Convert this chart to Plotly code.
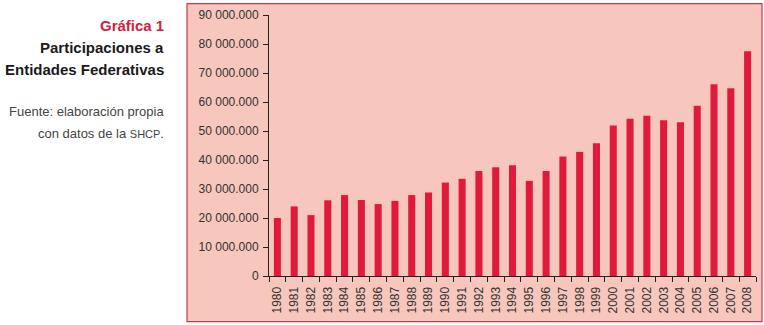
import plotly.graph_objects as go

years = [str(y) for y in range(1980, 2009)]
values = [20.0, 24.0, 21.0, 26.1, 27.9, 26.2, 24.8, 25.9, 27.9, 28.8,
          32.2, 33.5, 36.2, 37.5, 38.2, 32.8, 36.2, 41.2, 42.8, 45.8,
          51.9, 54.2, 55.3, 53.7, 53.0, 58.7, 66.1, 64.7, 77.5]
values = [v * 1_000_000 for v in values]

tick_vals = [0, 10e6, 20e6, 30e6, 40e6, 50e6, 60e6, 70e6, 80e6, 90e6]
tick_text = ["0", "10 000.000", "20 000.000", "30 000.000", "40 000.000",
             "50 000.000", "60 000.000", "70 000.000", "80 000.000", "90 000.000"]

W, H = 764, 325
L, R, T, B = 269, 756, 13, 276  # plot area in pixels

def px(x):
    return (x - L) / (R - L)

def py(y):
    return (B - y) / (B - T)

PINK = "#F7C6BC"
RED = "#E01A3B"
FONT = "Liberation Sans"

fig = go.Figure(go.Bar(x=years, y=values, marker=dict(color=RED, line=dict(width=0)),
                       width=0.42))

fig.add_shape(type="rect", xref="paper", yref="paper",
              x0=px(187), x1=px(762), y0=py(322), y1=py(1.5),
              fillcolor=PINK, line=dict(color="#C53A52", width=1.2), layer="below")

annots = [
    dict(text="<b>Gráfica 1</b>", y=24, size=15, color="#D4213D"),
    dict(text="<b>Participaciones a</b>", y=46, size=15, color="#1a1a1a"),
    dict(text="<b>Entidades Federativas</b>", y=68, size=15, color="#1a1a1a"),
    dict(text="Fuente: elaboración propia", y=110, size=13, color="#444444"),
    dict(text="con datos de la <span style='font-size:11px'>SHCP</span>.", y=132, size=13, color="#444444"),
]
for a in annots:
    fig.add_annotation(text=a["text"], xref="paper", yref="paper", x=px(166), y=py(a["y"]),
                       xanchor="right", yanchor="middle", showarrow=False,
                       font=dict(family=FONT, size=a["size"], color=a["color"]))

fig.update_layout(
    width=W, height=H,
    margin=dict(l=L, r=W - R, t=T, b=H - B, pad=0),
    paper_bgcolor="white", plot_bgcolor="rgba(0,0,0,0)",
    showlegend=False, bargap=0.58,
    font=dict(family=FONT, color="#333333"),
)
fig.update_xaxes(type="category", tickangle=-90, ticks="outside", ticklen=5, tickcolor="#222",
                 tickson="boundaries", showline=True, linecolor="#222", linewidth=1,
                 showgrid=False, tickfont=dict(size=12, color="#333"), range=[-0.5, 28.5],
                 ticklabelstandoff=5)
fig.update_yaxes(range=[0, 90e6], tickvals=tick_vals, ticktext=tick_text, ticks="outside",
                 ticklen=5, tickcolor="#222", showline=True, linecolor="#222", linewidth=1,
                 showgrid=False, zeroline=False, tickfont=dict(size=12, color="#333"),
                 ticklabelstandoff=2)

fig.write_html("out.html", config={"displayModeBar": False},
               post_script="document.body.style.margin='0';")
